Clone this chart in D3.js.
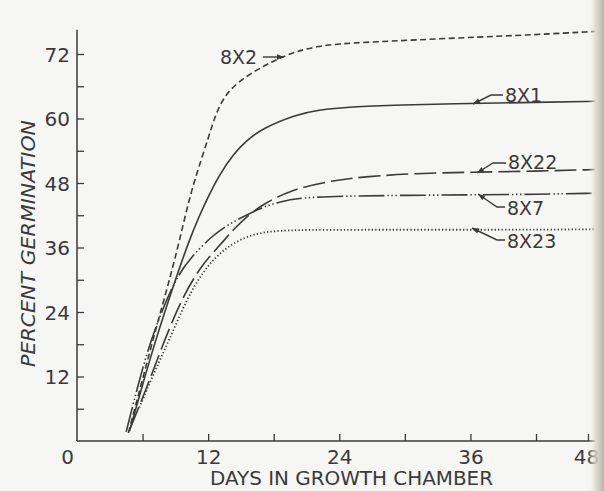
<!DOCTYPE html>
<html>
<head>
<meta charset="utf-8">
<script src="https://cdn.jsdelivr.net/npm/d3@7"></script>
<style>
  html, body { margin: 0; padding: 0; background: #f6f6f4; }
  svg { display: block; }
</style>
</head>
<body>
<div id="chart"></div>
<script>
// ---- data (day, percent germination) ----
const s8X2  = [[4.7,1.5],[6.0,11.5],[7.3,21.5],[8.4,29.5],[9.35,37],[10.45,46.7],[11.65,54],[12.4,59],[13.0,62.3],[13.9,65.3],[15.5,67.9],[17.3,70],[18.5,71.2],[20.1,72.5],[21.9,73.4],[24,73.9],[26.5,74.2],[35,75],[42,75.6],[48.8,76.2]];
const s8X1  = [[4.8,1.8],[6.0,10.5],[7.3,19.5],[8.9,29.4],[10.27,37.4],[11.2,41.9],[11.9,45],[13.0,49.5],[14.4,53.6],[15.5,55.9],[17,58.2],[20,60.7],[22,61.6],[25,62.2],[29.5,62.5],[36,62.8],[42,63],[48.8,63.2]];
const s8X22 = [[4.9,2.5],[6.5,10.5],[8.0,18.8],[9.81,27.5],[11.46,32.7],[12.0,34],[13.75,38],[14.2,39.1],[15.77,42.2],[16.96,43.9],[19.44,46.7],[23.4,48.5],[26.5,49.2],[31,49.8],[36,50],[42,50.2],[48.8,50.5]];
const s8X7  = [[4.5,1.7],[5.9,13],[7.2,21.5],[9.08,30.5],[10.45,34.2],[12.4,38.3],[14.1,40.6],[16.7,43.3],[18.5,44.5],[20.4,45.3],[25,45.6],[30,45.7],[36,45.8],[42,45.9],[48.8,46.1]];
const s8X23 = [[5.7,6.2],[7.0,12.5],[8.44,18.8],[10.09,26.6],[11.46,31.3],[13.2,35.5],[15.77,38.5],[18.5,39.2],[22,39.3],[30,39.3],[42,39.3],[48.8,39.4]];

const seriesNames = ["8X2", "8X1", "8X22", "8X7", "8X23"];
const seriesData  = [s8X2, s8X1, s8X22, s8X7, s8X23];

const yTicks      = [6,12,18,24,30,36,42,48,54,60,66,72];
const yTickLabels = [12,24,36,48,60,72];
const xTicks      = [6,12,18,24,30,36,42,48];
const xTickLabels = [0,12,24,36,48];

const xTitle = "DAYS IN GROWTH CHAMBER";
const yTitle = "PERCENT GERMINATION";

// ---- layout / styling ----
const W = 604, H = 491;
const ink = "#3a3a3a";
const font = "'DejaVu Sans', sans-serif";

const x = d3.scaleLinear().domain([0, 42, 48]).range([77, 536, 588]);
const y = d3.scaleLinear().domain([0, 72]).range([441, 54]);

const svg = d3.select("#chart").append("svg")
  .attr("width", W).attr("height", H);

// background + page-edge shading
const defs = svg.append("defs");
const grad = defs.append("linearGradient").attr("id", "edge")
  .attr("x1", "0").attr("x2", "1").attr("y1", "0").attr("y2", "0");
grad.append("stop").attr("offset", "0").attr("stop-color", "#f6f6f4").attr("stop-opacity", 0);
grad.append("stop").attr("offset", "0.45").attr("stop-color", "#ddd8cc").attr("stop-opacity", 0.8);
grad.append("stop").attr("offset", "1").attr("stop-color", "#b9b2a4").attr("stop-opacity", 1);

svg.append("rect").attr("width", W).attr("height", H).attr("fill", "#f6f6f4");

defs.append("marker").attr("id", "arr")
  .attr("viewBox", "0 0 10 10").attr("refX", 10).attr("refY", 5)
  .attr("markerWidth", 9).attr("markerHeight", 7)
  .attr("markerUnits", "userSpaceOnUse")
  .attr("orient", "auto")
  .append("path").attr("d", "M0,1 L10,5 L0,9 Z").attr("fill", ink);

// axes lines
svg.append("line")
  .attr("x1", x(0)).attr("x2", x(0))
  .attr("y1", y(0)).attr("y2", y(76.5))
  .attr("stroke", ink).attr("stroke-width", 1.5);
svg.append("line")
  .attr("x1", x(0)).attr("x2", x(48.8))
  .attr("y1", y(0)).attr("y2", y(0))
  .attr("stroke", ink).attr("stroke-width", 1.5);

// y ticks (inward)
const yTickAxis = svg.append("g").attr("transform", `translate(${x(0)},0)`)
  .call(d3.axisRight(y).tickValues(yTicks).tickSize(7).tickSizeOuter(0).tickFormat(""));
yTickAxis.select(".domain").remove();
yTickAxis.selectAll("line").attr("stroke", ink).attr("stroke-width", 1.3);

// y labels
const yLab = svg.append("g").attr("transform", `translate(${x(0) - 7},0)`)
  .call(d3.axisLeft(y).tickValues(yTickLabels).tickSize(0).tickPadding(0));
yLab.select(".domain").remove();
yLab.selectAll("text").attr("fill", ink).attr("font-family", font).attr("font-size", 20)
  .attr("dy", "0.36em");

// x ticks (inward)
const xTickAxis = svg.append("g").attr("transform", `translate(0,${y(0)})`)
  .call(d3.axisTop(x).tickValues(xTicks).tickSize(7).tickSizeOuter(0).tickFormat(""));
xTickAxis.select(".domain").remove();
xTickAxis.selectAll("line").attr("stroke", ink).attr("stroke-width", 1.3);

// x labels
const xLab = svg.append("g").attr("transform", `translate(0,${y(0) + 9})`)
  .call(d3.axisBottom(x).tickValues(xTickLabels).tickSize(0).tickPadding(0));
xLab.select(".domain").remove();
xLab.selectAll("text").attr("fill", ink).attr("font-family", font).attr("font-size", 20)
  .attr("dy", "0.71em")
  .attr("dx", d => d === 0 ? -10 : (d === 48 ? -2 : 0));

// axis titles
svg.append("text")
  .attr("x", 210).attr("y", 485)
  .attr("textLength", 283).attr("lengthAdjust", "spacingAndGlyphs")
  .attr("fill", ink).attr("font-family", font).attr("font-size", 19)
  .text(xTitle);

svg.append("text")
  .attr("transform", "translate(35,367) rotate(-90)")
  .attr("textLength", 247).attr("lengthAdjust", "spacingAndGlyphs")
  .attr("fill", ink).attr("font-family", font).attr("font-size", 19)
  .attr("font-style", "italic")
  .text(yTitle);

// curves
const dashes = {
  "8X2":  "6,3.5",
  "8X1":  null,
  "8X22": "22,6",
  "8X7":  "26,3,1.4,2.6,1.4,2.6,1.4,3",
  "8X23": "1.3,2.2"
};
const line = d3.line().x(d => x(d[0])).y(d => y(d[1])).curve(d3.curveBasis);

svg.append("g").selectAll("path")
  .data(seriesNames.map((n, i) => ({name: n, values: seriesData[i]})))
  .join("path")
  .attr("d", d => line(d.values))
  .attr("fill", "none")
  .attr("stroke", ink)
  .attr("stroke-width", d => d.name === "8X23" ? 1.8 : 1.6)
  .attr("stroke-dasharray", d => dashes[d.name]);

// labels with leader arrows
const labelSpecs = [
  {name: "8X2",  tx: 220, ty: 57,  pts: [[263,57],[284,57]]},
  {name: "8X1",  tx: 505, ty: 95,  pts: [[503,95],[491,95],[473,104]]},
  {name: "8X22", tx: 508, ty: 162, pts: [[506,163],[493,163],[477,173]]},
  {name: "8X7",  tx: 507, ty: 208, pts: [[505,207],[497,207],[478,194]]},
  {name: "8X23", tx: 507, ty: 241, pts: [[505,240],[497,240],[472,228]]}
];

const lg = svg.append("g");
labelSpecs.forEach(s => {
  lg.append("text")
    .attr("x", s.tx).attr("y", s.ty).attr("dy", "0.36em")
    .attr("fill", ink).attr("font-family", font).attr("font-size", 19)
    .text(s.name);
  lg.append("path")
    .attr("d", d3.line()(s.pts))
    .attr("fill", "none").attr("stroke", ink).attr("stroke-width", 1.4)
    .attr("marker-end", "url(#arr)");
});

// page edge shading
svg.append("rect").attr("x", 588).attr("y", 0).attr("width", 16).attr("height", H)
  .attr("fill", "url(#edge)");
</script>
</body>
</html>
